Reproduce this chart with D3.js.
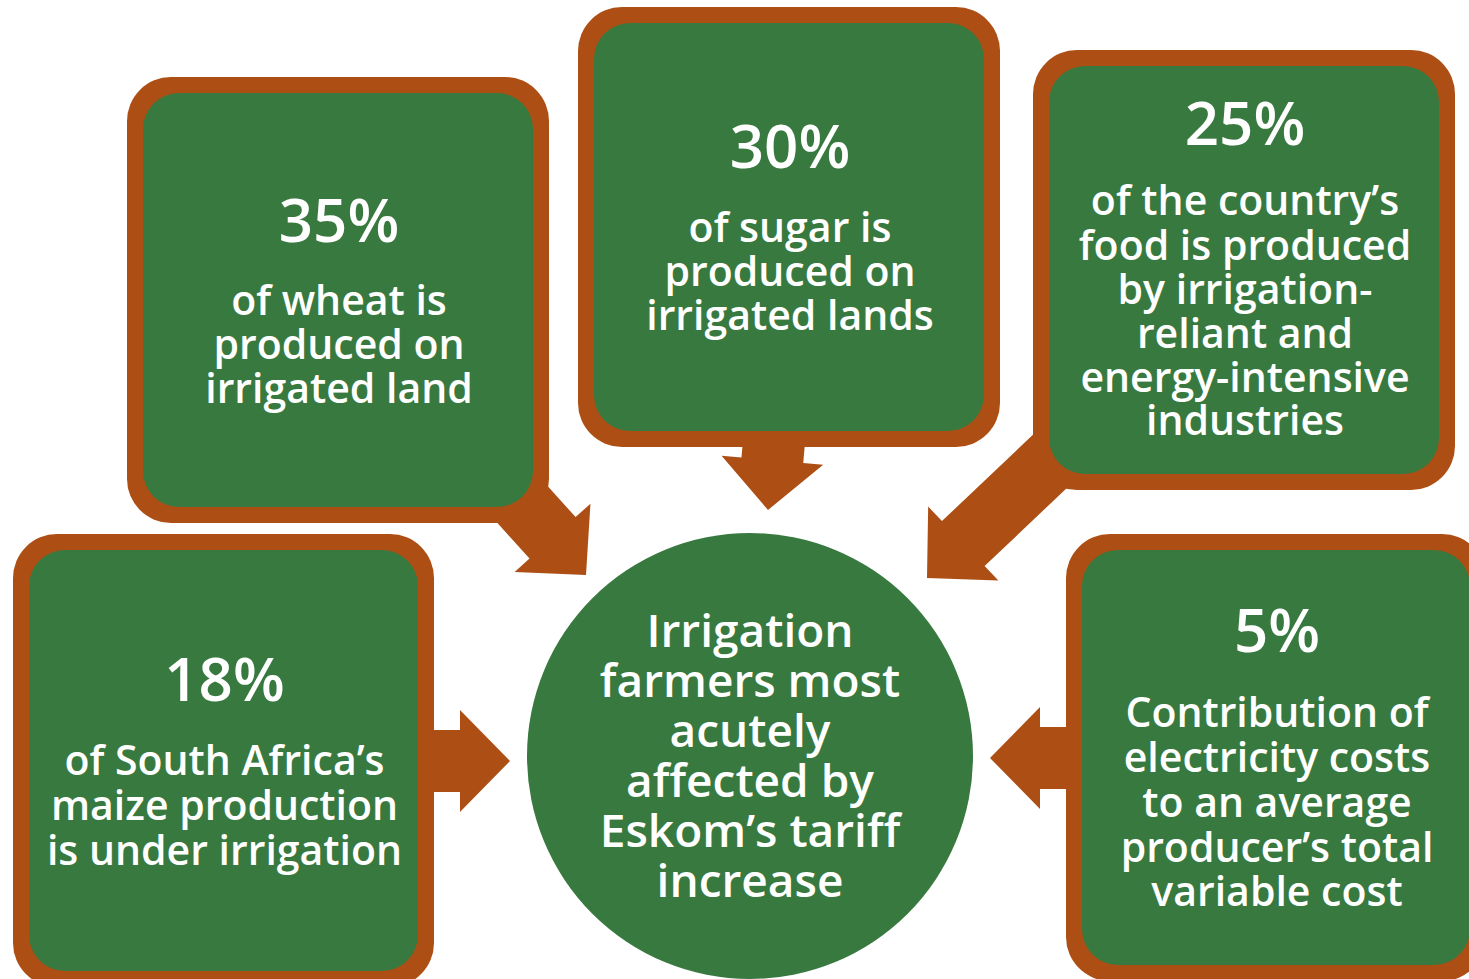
<!DOCTYPE html>
<html>
<head>
<meta charset="utf-8">
<script src="https://cdn.jsdelivr.net/npm/d3@7"></script>
<style>
  html, body { margin: 0; padding: 0; background: #ffffff; }
  svg { display: block; }
</style>
</head>
<body>
<div id="chart"></div>
<script>
// ---- Data (content) ----
const percents = ["35%", "30%", "25%", "18%", "5%"];
const captions = [
  ["of wheat is", "produced on", "irrigated land"],
  ["of sugar is", "produced on", "irrigated lands"],
  ["of the country\u2019s", "food is produced", "by irrigation-", "reliant and", "energy-intensive", "industries"],
  ["of South Africa\u2019s", "maize production", "is under irrigation"],
  ["Contribution of", "electricity costs", "to an average", "producer\u2019s total", "variable cost"]
];
const centerLines = ["Irrigation", "farmers most", "acutely", "affected by", "Eskom\u2019s tariff", "increase"];

// ---- Layout (positions / styles) ----
const W = 1469, H = 979;
const GREEN = "#38793f", ORANGE = "#ad4f14";
const boxLayout = [
  {x0: 127,  y0: 77,  x1: 549,  y1: 523, pctY: 242, lineY: [315, 359, 403]},
  {x0: 578,  y0: 7,   x1: 1000, y1: 447, pctY: 168, lineY: [242, 286, 330]},
  {x0: 1033, y0: 50,  x1: 1455, y1: 490, pctY: 145, lineY: [215, 260, 304, 348, 392, 435]},
  {x0: 13,   y0: 534, x1: 434,  y1: 987, pctY: 701, lineY: [775, 820, 865]},
  {x0: 1066, y0: 534, x1: 1486, y1: 981, pctY: 652, lineY: [727, 772, 817, 862, 906]}
];
const arrowLayout = [
  {tx: 586, ty: 575, angle: 48,    len: 140},
  {tx: 768, ty: 510, angle: 95,    len: 110},
  {tx: 927, ty: 578, angle: 136.5, len: 190},
  {tx: 510, ty: 761, angle: 0,     len: 100},
  {tx: 990, ty: 758, angle: 180,   len: 100}
];
const circleLayout = {cx: 750, cy: 756, r: 223, firstBaseline: 647, lineStep: 50};

const SHAFT = 62, HEAD_W = 102, HEAD_L = 50, BORDER = 16, R_OUT = 44;
const FONT = "'Open Sans', 'DejaVu Sans', sans-serif";

const svg = d3.select("#chart").append("svg")
  .attr("width", W).attr("height", H)
  .attr("viewBox", `0 0 ${W} ${H}`);

// ---- Arrows (beneath boxes) ----
function arrowPath(L) {
  const pts = [
    [0, 0], [-HEAD_L, HEAD_W / 2], [-HEAD_L, SHAFT / 2], [-L, SHAFT / 2],
    [-L, -SHAFT / 2], [-HEAD_L, -SHAFT / 2], [-HEAD_L, -HEAD_W / 2]
  ];
  return d3.line()(pts) + "Z";
}
svg.append("g").selectAll("path").data(arrowLayout).join("path")
  .attr("d", d => arrowPath(d.len))
  .attr("transform", d => `translate(${d.tx},${d.ty}) rotate(${d.angle})`)
  .attr("fill", ORANGE);

// ---- Boxes ----
const boxes = svg.append("g").selectAll("g").data(percents.map((p, i) => ({
  pct: p, lines: captions[i], ...boxLayout[i]
}))).join("g");

boxes.append("rect")
  .attr("x", d => d.x0).attr("y", d => d.y0)
  .attr("width", d => d.x1 - d.x0).attr("height", d => d.y1 - d.y0)
  .attr("rx", R_OUT).attr("ry", R_OUT)
  .attr("fill", ORANGE);
boxes.append("rect")
  .attr("x", d => d.x0 + BORDER).attr("y", d => d.y0 + BORDER)
  .attr("width", d => d.x1 - d.x0 - 2 * BORDER).attr("height", d => d.y1 - d.y0 - 2 * BORDER)
  .attr("rx", R_OUT - BORDER + 8).attr("ry", R_OUT - BORDER + 8)
  .attr("fill", GREEN);

boxes.append("text")
  .attr("x", d => (d.x0 + d.x1) / 2 + 1)
  .attr("y", d => d.pctY)
  .attr("text-anchor", "middle")
  .attr("font-family", FONT).attr("font-weight", 600)
  .attr("font-size", 60).attr("fill", "#ffffff")
  .text(d => d.pct);

boxes.each(function(d) {
  d3.select(this).selectAll("text.cap").data(d.lines).join("text")
    .attr("class", "cap")
    .attr("x", (d.x0 + d.x1) / 2 + 1)
    .attr("y", (t, j) => d.lineY[j])
    .attr("text-anchor", "middle")
    .attr("font-family", FONT).attr("font-weight", 600)
    .attr("font-size", 41).attr("fill", "#ffffff")
    .text(t => t);
});

// ---- Central circle ----
svg.append("circle")
  .attr("cx", circleLayout.cx).attr("cy", circleLayout.cy).attr("r", circleLayout.r)
  .attr("fill", GREEN);
svg.append("g").selectAll("text").data(centerLines).join("text")
  .attr("x", circleLayout.cx)
  .attr("y", (t, i) => circleLayout.firstBaseline + i * circleLayout.lineStep)
  .attr("text-anchor", "middle")
  .attr("font-family", FONT).attr("font-weight", 600)
  .attr("font-size", 46).attr("fill", "#ffffff")
  .text(t => t);
</script>
</body>
</html>
